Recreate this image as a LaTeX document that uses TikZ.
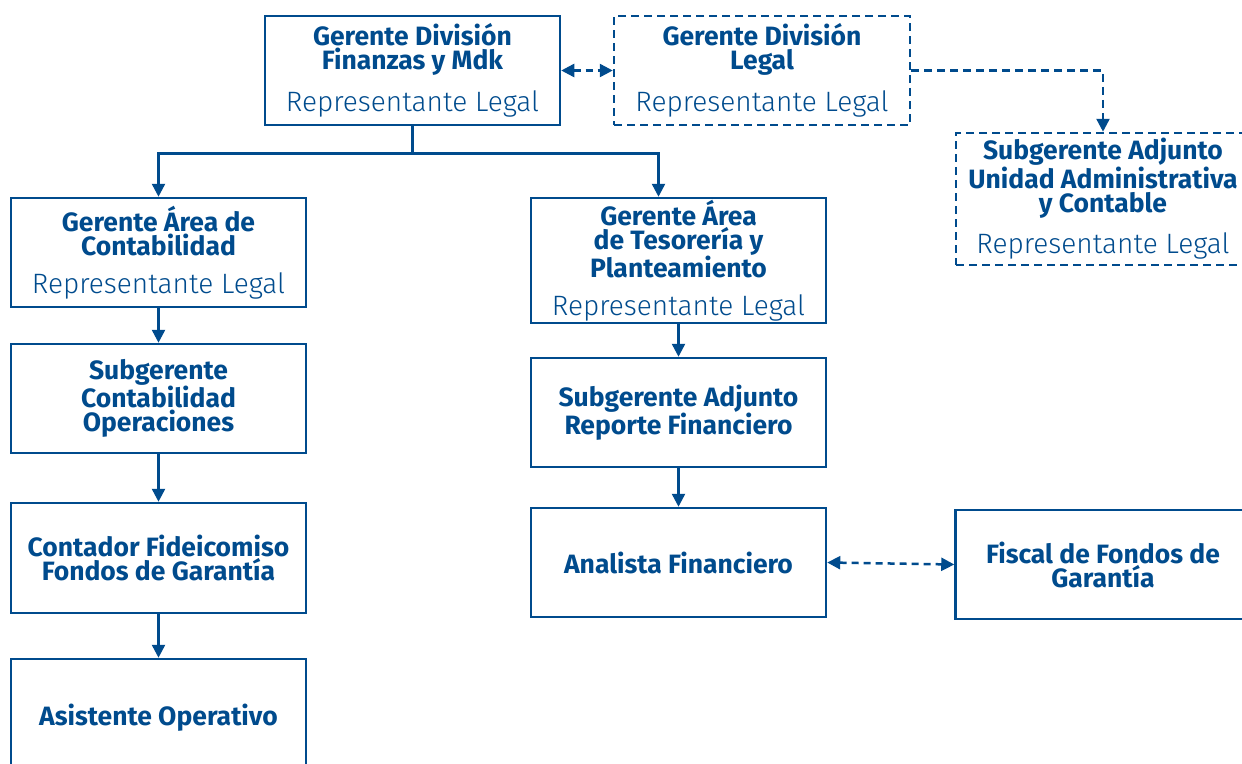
\documentclass[tikz,border=0pt]{standalone}
\usepackage{fontspec}
\setmainfont{Fira Sans}
\newfontfamily\lightfont{Fira Sans Light}
\usetikzlibrary{arrows.meta}

\definecolor{azul}{RGB}{0,75,141}

\tikzset{
  caja/.style={draw=azul, line width=2.5pt, minimum width=295pt, minimum height=109pt,
    align=center, text=azul, inner sep=0pt,
    font=\fontsize{26.5}{24}\selectfont\bfseries},
  cajapunteada/.style={caja, dash pattern=on 8pt off 5pt},
  punta/.tip={Triangle[width=13pt,length=13pt]},
  flecha/.style={draw=azul, line width=2.5pt, -punta},
  flechadoble/.style={draw=azul, line width=2.5pt, dash pattern=on 7pt off 5pt, punta-punta},
  flechapunteada/.style={flecha, dash pattern=on 8pt off 5pt}
}

\newcommand{\replegal}{\\[14pt]{\lightfont\mdseries\fontsize{28}{26}\selectfont Representante Legal}}

\begin{document}
\begin{tikzpicture}[x=1pt,y=-1pt]
  \useasboundingbox (0,0) rectangle (1242,763);

  % Dirección
  \node[caja] (fin) at (412.5,70.5) {Gerente División\\Finanzas y Mdk\replegal};
  \node[cajapunteada, minimum width=296pt] (legal) at (762,70.5) {Gerente División\\Legal\replegal};
  \node[cajapunteada, minimum width=294pt, minimum height=132pt] (uac) at (1103,199)
    {Subgerente Adjunto\\Unidad Administrativa\\y Contable\replegal};

  % Contabilidad
  \node[caja] (cont) at (158.5,252.5) {Gerente Área de\\Contabilidad\replegal};
  \node[caja] (subop) at (158.5,398.5) {Subgerente\\Contabilidad\\Operaciones};
  \node[caja, minimum height=110pt] (contador) at (158.5,558) {Contador Fideicomiso\\Fondos de Garantía};
  \node[caja, minimum height=118pt] (asis) at (158.5,718) {Asistente Operativo};

  % Tesorería
  \node[caja, minimum height=125pt] (teso) at (678.5,260.5) {Gerente Área\\de Tesorería y\\Planteamiento\replegal};
  \node[caja] (repfin) at (678.5,412.5) {Subgerente Adjunto\\Reporte Financiero};
  \node[caja] (anal) at (678.5,562.5) {Analista Financiero};
  \node[caja] (fiscal) at (1103,564.5) {Fiscal de Fondos de\\Garantía};

  % Conectores
  \draw[flecha] (fin.south) -- ++(0,27) coordinate (rama) -| (cont.north);
  \draw[flecha] (rama) -| ([xshift=-20pt]teso.north);
  \draw[flechadoble] (fin.east) -- (legal.west);
  \draw[flechapunteada] (legal.east) -| (uac.north);

  \draw[flecha] (cont) -- (subop);
  \draw[flecha] (subop) -- (contador);
  \draw[flecha] (contador) -- (asis);

  \draw[flecha] (teso) -- (repfin);
  \draw[flecha] (repfin) -- (anal);
  \draw[flechadoble] (anal.east) -- (fiscal.west);
\end{tikzpicture}
\end{document}
